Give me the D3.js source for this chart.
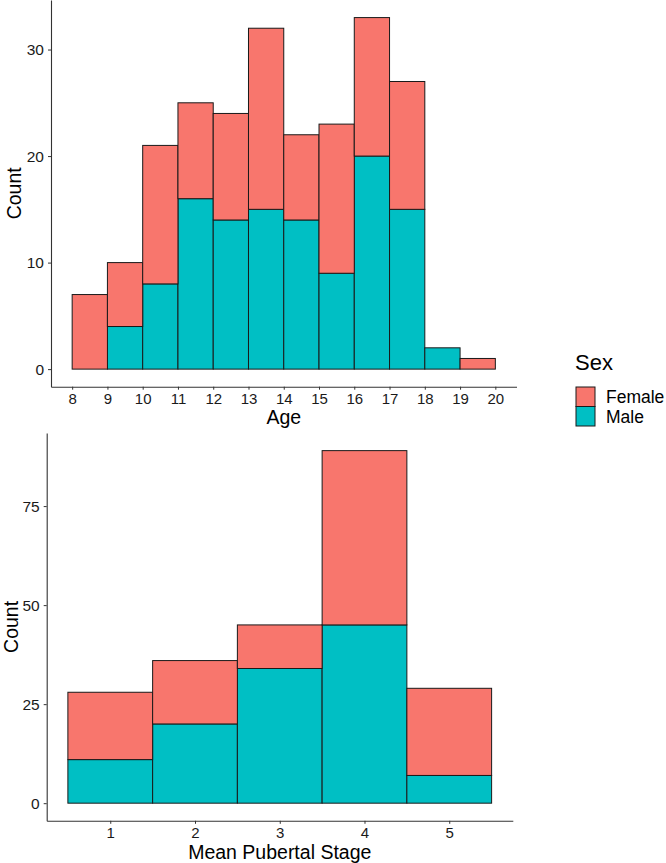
<!DOCTYPE html>
<html>
<head>
<meta charset="utf-8">
<script src="https://cdn.jsdelivr.net/npm/d3@7"></script>
<style>
  body { margin: 0; background: #fff; }
  svg { display: block; font-family: "Liberation Sans", Arial, sans-serif; }
  .tick text { fill: #1a1a1a; }
</style>
</head>
<body>
<div id="chart"></div>
<script>
// Data
var sexKeys = ["Female", "Male"];
var sexColors = ["#F8766D", "#00BFC4"];

var ageBinStart = [8, 9, 10, 11, 12, 13, 14, 15, 16, 17, 18, 19];
var ageFemale = [7, 6, 13, 9, 10, 17, 8, 14, 13, 12, 0, 1];
var ageMale = [0, 4, 8, 16, 14, 15, 14, 9, 20, 15, 2, 0];
var ageTicks = [8, 9, 10, 11, 12, 13, 14, 15, 16, 17, 18, 19, 20];
var ageCountTicks = [0, 10, 20, 30];

var stageCenter = [1, 2, 3, 4, 5];
var stageFemale = [17, 16, 11, 44, 22];
var stageMale = [11, 20, 34, 45, 7];
var stageTicks = [1, 2, 3, 4, 5];
var stageCountTicks = [0, 25, 50, 75];

var width = 666, height = 863;
var svg = d3.select("#chart").append("svg")
    .attr("width", width)
    .attr("height", height);

/**
 * Draw one stacked histogram panel
 */
function drawPanel(opts) {
    var g = svg.append("g");

    var rows = opts.x0.map(function(d, i) {
        return { x0: d, x1: d + opts.binWidth, Male: opts.male[i], Female: opts.female[i] };
    });
    // ggplot stacks the first level on top, so Male goes at the bottom
    var stacked = d3.stack().keys(["Male", "Female"])(rows);

    var xMin = d3.min(rows, function(d) { return d.x0; });
    var xMax = d3.max(rows, function(d) { return d.x1; });
    var yMax = d3.max(rows, function(d) { return d.Male + d.Female; });
    var xPad = (xMax - xMin) * 0.05, yPad = yMax * 0.05;

    var x = d3.scaleLinear().domain([xMin - xPad, xMax + xPad]).range([opts.left, opts.right]);
    var y = d3.scaleLinear().domain([-yPad, yMax + yPad]).range([opts.bottom, opts.top]);

    stacked.forEach(function(layer) {
        var color = sexColors[sexKeys.indexOf(layer.key)];
        g.append("g").selectAll("rect")
            .data(layer.filter(function(d) { return d[1] - d[0] > 0; }))
            .enter()
            .append("rect")
            .attr("x", function(d) { return x(d.data.x0); })
            .attr("width", function(d) { return x(d.data.x1) - x(d.data.x0); })
            .attr("y", function(d) { return y(d[1]); })
            .attr("height", function(d) { return y(d[0]) - y(d[1]); })
            .attr("fill", color)
            .attr("stroke", "#1a1a1a")
            .attr("stroke-width", 1);
    });

    var fmt = d3.format("d");
    var xAxis = g.append("g")
        .attr("transform", "translate(0," + opts.bottom + ")")
        .call(d3.axisBottom(x).tickValues(opts.xTicks).tickFormat(fmt)
            .tickSize(3).tickSizeOuter(0).tickPadding(4));
    xAxis.selectAll("text").attr("font-size", 15);

    var yAxis = g.append("g")
        .attr("transform", "translate(" + opts.left + ",0)")
        .call(d3.axisLeft(y).tickValues(opts.yTicks).tickFormat(fmt)
            .tickSize(3).tickSizeOuter(0).tickPadding(4));
    yAxis.selectAll("text").attr("font-size", 15.5);

    [xAxis, yAxis].forEach(function(a) {
        a.select(".domain").attr("stroke", "#333").attr("stroke-width", 1.1);
        a.selectAll(".tick line").attr("stroke", "#333");
    });

    g.append("text")
        .attr("x", (opts.left + opts.right) / 2)
        .attr("y", opts.xTitleY)
        .attr("text-anchor", "middle")
        .attr("font-size", 19.5)
        .attr("fill", "#000")
        .text(opts.xTitle);

    g.append("text")
        .attr("transform", "translate(" + opts.yTitleX + "," + ((opts.top + opts.bottom) / 2) + ") rotate(-90)")
        .attr("text-anchor", "middle")
        .attr("font-size", 19.5)
        .attr("fill", "#000")
        .text("Count");
}

drawPanel({
    x0: ageBinStart, binWidth: 1, female: ageFemale, male: ageMale,
    xTicks: ageTicks, yTicks: ageCountTicks,
    left: 51, right: 516.5, top: 0, bottom: 386.7,
    xTitle: "Age", xTitleY: 424, yTitleX: 21
});

drawPanel({
    x0: stageCenter.map(function(d) { return d - 0.5; }), binWidth: 1,
    female: stageFemale, male: stageMale,
    xTicks: stageTicks, yTicks: stageCountTicks,
    left: 46.7, right: 512.8, top: 433, bottom: 820.8,
    xTitle: "Mean Pubertal Stage", xTitleY: 859, yTitleX: 18
});

// Legend
var legend = svg.append("g").attr("transform", "translate(576,370)");
legend.append("text")
    .attr("x", -1).attr("y", 0)
    .attr("font-size", 22)
    .text("Sex");
var item = legend.selectAll(".item")
    .data(sexKeys)
    .enter()
    .append("g")
    .attr("transform", function(d, i) { return "translate(0," + (17 + i * 19.5) + ")"; });
item.append("rect")
    .attr("width", 19).attr("height", 19.5)
    .attr("fill", function(d, i) { return sexColors[i]; })
    .attr("stroke", "#1a1a1a")
    .attr("stroke-width", 1);
item.append("text")
    .attr("x", 30).attr("y", 16)
    .attr("font-size", 17.5)
    .text(function(d) { return d; });
</script>
</body>
</html>
